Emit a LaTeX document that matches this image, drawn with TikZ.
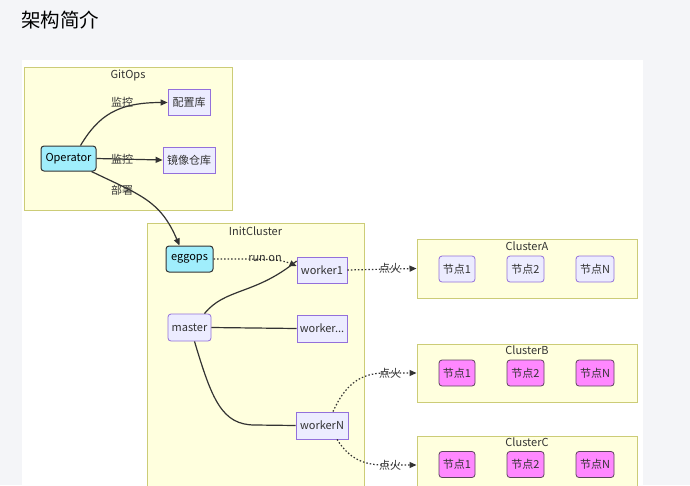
\documentclass[tikz,border=0pt]{standalone}
\usepackage{fontspec}
\setmainfont{Noto Sans CJK SC}
\usetikzlibrary{arrows.meta}
\definecolor{pagebg}{HTML}{F4F5F8}
\definecolor{clfill}{HTML}{FFFFDE}
\definecolor{cldraw}{HTML}{CCCC77}
\definecolor{nfill}{HTML}{ECECFF}
\definecolor{ndraw}{HTML}{9370DB}
\definecolor{cyanfill}{HTML}{A0EEFC}
\definecolor{magfill}{HTML}{FF88FF}
\definecolor{ink}{HTML}{333333}
\tikzset{
  cluster/.style={draw=cldraw, fill=clfill, line width=1pt, inner sep=0pt},
  cltitle/.style={font=\fontsize{11}{13}\selectfont, text=ink, inner sep=0pt},
  plain/.style={draw=ndraw, fill=nfill, line width=0.8pt, font=\fontsize{11}{13}\selectfont, text=ink, inner sep=0pt, minimum height=26pt},
  roundn/.style={plain, rounded corners=3pt},
  cyann/.style={draw=ink, fill=cyanfill, line width=1pt, rounded corners=3pt, font=\fontsize{11}{13}\selectfont, text=black, inner sep=0pt, minimum height=26pt},
  magn/.style={draw=ink!80!magfill, fill=magfill, line width=0.8pt, rounded corners=3pt, font=\fontsize{11}{13}\selectfont, text=ink, inner sep=0pt, minimum height=26pt},
  link/.style={draw=ink, line width=1.2pt},
  arr/.style={link, -{Triangle[length=7pt,width=6pt]}},
  dotarr/.style={draw=ink, line width=1.2pt, dash pattern=on 1.5pt off 2pt, -{Triangle[length=7pt,width=6pt]}},
  elabel/.style={font=\fontsize{11}{13}\selectfont, text=ink, inner sep=0pt},
}
\begin{document}
\begin{tikzpicture}[x=1pt,y=-1pt]
\useasboundingbox (0,0) rectangle (690,485);
\clip (0,0) rectangle (690,485);
\fill[pagebg] (0,0) rectangle (690,485);
\fill[white] (22,60) rectangle (643,490);
\node[anchor=west, inner sep=0pt, font=\fontsize{19.5}{22}\selectfont] (title) at (21,20) {架构简介};

% clusters
\node[cluster, minimum width=208pt, minimum height=143pt] (gitops) at (128,138.5) {};
\node[cltitle] (gitopst) at (128,75) {GitOps};
\node[cluster, minimum width=217pt, minimum height=280pt] (init) at (255.5,363) {};
\node[cltitle] (initt) at (255.5,231) {InitCluster};
\node[cluster, minimum width=220pt, minimum height=59pt] (clA) at (527,268.5) {};
\node[cltitle] (clAt) at (527,246) {ClusterA};
\node[cluster, minimum width=220pt, minimum height=58pt] (clB) at (527,373) {};
\node[cltitle] (clBt) at (527,350.5) {ClusterB};
\node[cluster, minimum width=220pt, minimum height=58pt] (clC) at (527,465) {};
\node[cltitle] (clCt) at (527,442) {ClusterC};

% GitOps nodes
\node[plain, minimum width=42pt] (config) at (189,102.5) {配置库};
\node[plain, minimum width=52pt] (mirror) at (189,160) {镜像仓库};
\node[cyann, minimum width=55pt, minimum height=25pt] (operator) at (68.5,158.5) {Operator};

% InitCluster nodes
\node[cyann, minimum width=47pt] (eggops) at (189.5,259) {eggops};
\node[plain, minimum width=50pt] (worker1) at (322,270) {worker1};
\node[roundn, minimum width=43pt, minimum height=27pt] (master) at (189.5,327.5) {master};
\node[plain, minimum width=50pt, minimum height=27pt] (workerd) at (322,328.5) {worker...};
\node[plain, minimum width=52pt, minimum height=27pt] (workerN) at (322,425.5) {workerN};

% Cluster A nodes
\node[roundn, minimum width=36pt] (a1) at (457,269) {节点1};
\node[roundn, minimum width=37pt] (a2) at (525.5,269) {节点2};
\node[roundn, minimum width=38pt] (aN) at (595,269) {节点N};
% Cluster B nodes
\node[magn, minimum width=36pt] (b1) at (457,373) {节点1};
\node[magn, minimum width=37pt] (b2) at (525.5,373) {节点2};
\node[magn, minimum width=38pt] (bN) at (595,373) {节点N};
% Cluster C nodes
\node[magn, minimum width=36pt] (c1) at (457,464.5) {节点1};
\node[magn, minimum width=37pt] (c2) at (525.5,464.5) {节点2};
\node[magn, minimum width=38pt] (cN) at (595,464.5) {节点N};

% edges in GitOps
\draw[arr] ([xshift=12pt]operator.north) .. controls +(18,-30) and +(-50,0) .. (config.west);
\node[elabel] (l1) at (122,102) {监控};
\draw[arr] (operator.east) -- (mirror.west);
\node[elabel] (l2) at (122,159.5) {监控};
\draw[arr] ([xshift=-5pt]operator.south east) .. controls (140,195) and (160,200) .. ([xshift=-10pt]eggops.north);
\node[elabel] (l3) at (122,190) {部署};

% InitCluster edges
\draw[dotarr] (eggops.east) .. controls (265,259) and (280,259) .. ([yshift=4pt]worker1.west);
\node[elabel] (l4) at (265,259) {run on};
\draw[link] ([xshift=15pt]master.north) .. controls (225,288) and (255,295) .. ([yshift=9pt]worker1.west);
\draw[link] (master.east) -- (workerd.west);
\draw[link] ([xshift=5pt]master.south) .. controls (212,400) and (222,425) .. (255,425) -- (workerN.west);

% ignition edges
\draw[dotarr] (worker1.east) -- (clA.west);
\node[elabel] (l5) at (390,268.5) {点火};
\draw[dotarr] ([xshift=11pt]workerN.north) .. controls (345,385) and (360,373) .. (385,373) -- (clB.west);
\node[elabel] (l6) at (390,373) {点火};
\draw[dotarr] ([xshift=15pt]workerN.south) .. controls (350,460) and (365,465) .. (385,465) -- (clC.west);
\node[elabel] (l7) at (390,465) {点火};
\end{tikzpicture}
\end{document}
